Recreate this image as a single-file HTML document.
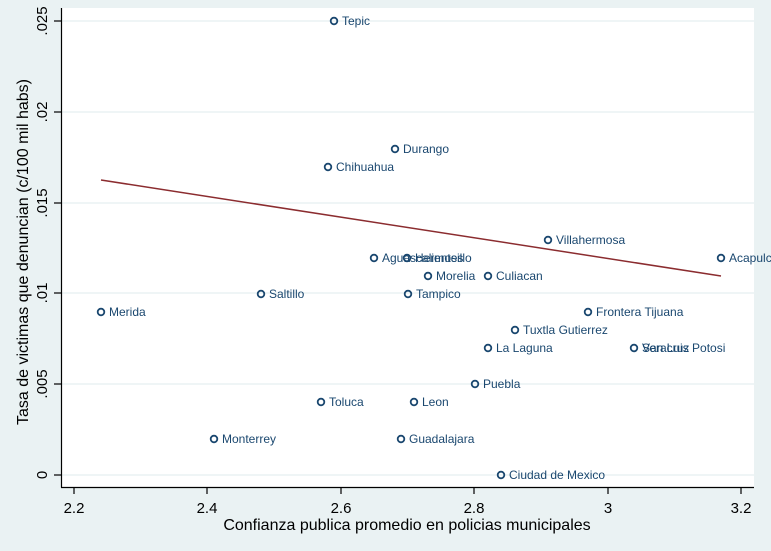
<!DOCTYPE html>
<html><head><style>body{margin:0;background:#eaf2f3}svg{display:block}</style></head><body>
<svg width="771" height="551" xmlns="http://www.w3.org/2000/svg" font-family="Liberation Sans, Arial, sans-serif">
<rect width="771" height="551" fill="#eaf2f3"/>
<rect x="61" y="8" width="693" height="479" fill="#fff"/>
<g stroke="#eaf2f3" stroke-width="1.5">
<line x1="61" x2="754" y1="21" y2="21"/><line x1="61" x2="754" y1="112" y2="112"/><line x1="61" x2="754" y1="203" y2="203"/><line x1="61" x2="754" y1="293" y2="293"/><line x1="61" x2="754" y1="384" y2="384"/><line x1="61" x2="754" y1="475" y2="475"/>
</g>
<g stroke="#000" stroke-width="1.2">
<line x1="61.5" y1="8" x2="61.5" y2="487.5"/><line x1="61" y1="487.5" x2="754" y2="487.5"/>
<line x1="54" x2="61" y1="21" y2="21"/><line x1="54" x2="61" y1="112" y2="112"/><line x1="54" x2="61" y1="203" y2="203"/><line x1="54" x2="61" y1="293" y2="293"/><line x1="54" x2="61" y1="384" y2="384"/><line x1="54" x2="61" y1="475" y2="475"/>
<line x1="74" x2="74" y1="487" y2="494"/><line x1="207" x2="207" y1="487" y2="494"/><line x1="341" x2="341" y1="487" y2="494"/><line x1="474" x2="474" y1="487" y2="494"/><line x1="608" x2="608" y1="487" y2="494"/><line x1="741" x2="741" y1="487" y2="494"/>
</g>
<g font-size="15" fill="#000" text-anchor="middle">
<text x="74" y="513">2.2</text><text x="207" y="513">2.4</text><text x="341" y="513">2.6</text><text x="474" y="513">2.8</text><text x="608" y="513">3</text><text x="741" y="513">3.2</text>
<text x="407" y="530" font-size="16">Confianza publica promedio en policias municipales</text>
<g transform="translate(47,0)">
<text transform="translate(0,21) rotate(-90)">.025</text><text transform="translate(0,112) rotate(-90)">.02</text><text transform="translate(0,203) rotate(-90)">.015</text><text transform="translate(0,293) rotate(-90)">.01</text><text transform="translate(0,384) rotate(-90)">.005</text><text transform="translate(0,475) rotate(-90)">0</text>
</g>
<text transform="translate(28,252) rotate(-90)" font-size="16">Tasa de victimas que denuncian (c/100 mil habs)</text>
</g>
<line x1="101" y1="180" x2="721" y2="276" stroke="#8b2c2f" stroke-width="1.5"/>
<g fill="none" stroke="#1a476f" stroke-width="1.8">
<circle cx="334" cy="21" r="3.3"/><circle cx="395" cy="149" r="3.3"/><circle cx="328" cy="167" r="3.3"/><circle cx="548" cy="240" r="3.3"/><circle cx="721" cy="258" r="3.3"/><circle cx="374" cy="258" r="3.3"/><circle cx="407" cy="258" r="3.3"/><circle cx="428" cy="276" r="3.3"/><circle cx="488" cy="276" r="3.3"/><circle cx="261" cy="294" r="3.3"/><circle cx="408" cy="294" r="3.3"/><circle cx="101" cy="312" r="3.3"/><circle cx="588" cy="312" r="3.3"/><circle cx="515" cy="330" r="3.3"/><circle cx="488" cy="348" r="3.3"/><circle cx="634" cy="348" r="3.3"/><circle cx="475" cy="384" r="3.3"/><circle cx="321" cy="402" r="3.3"/><circle cx="414" cy="402" r="3.3"/><circle cx="214" cy="439" r="3.3"/><circle cx="401" cy="439" r="3.3"/><circle cx="501" cy="475" r="3.3"/>
</g>
<g font-size="12" fill="#1a476f">
<text x="342" y="25">Tepic</text><text x="403" y="153">Durango</text><text x="336" y="171">Chihuahua</text><text x="556" y="244">Villahermosa</text><text x="729" y="262">Acapulco</text><text x="382" y="262">Aguascalientes</text><text x="415" y="262">Hermosillo</text><text x="436" y="280">Morelia</text><text x="496" y="280">Culiacan</text><text x="269" y="298">Saltillo</text><text x="416" y="298">Tampico</text><text x="109" y="316">Merida</text><text x="596" y="316">Frontera Tijuana</text><text x="523" y="334">Tuxtla Gutierrez</text><text x="496" y="352">La Laguna</text><text x="642" y="352">Veracruz</text><text x="642" y="352">San Luis Potosi</text><text x="483" y="388">Puebla</text><text x="329" y="406">Toluca</text><text x="422" y="406">Leon</text><text x="222" y="443">Monterrey</text><text x="409" y="443">Guadalajara</text><text x="509" y="479">Ciudad de Mexico</text>
</g>
</svg>
</body></html>
